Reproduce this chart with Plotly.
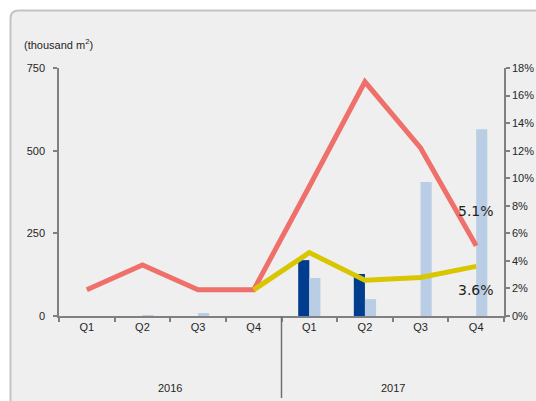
import plotly.graph_objects as go

quarters = ["Q1", "Q2", "Q3", "Q4", "Q1", "Q2", "Q3", "Q4"]
years = ["2016", "2017"]
dark_bars = [None, None, None, None, 169, 127, None, None]
light_bars = [None, 2, 9, None, 115, 51, 405, 565]
red_line = [1.9, 3.7, 1.9, 1.9, 9.4, 17.0, 12.2, 5.1]
yellow_line = [None, None, None, 1.9, 4.6, 2.6, 2.8, 3.6]

x = list(range(len(quarters)))

W, H = 536, 401
L, R, T, B = 59, 32, 68, 85
pw, ph = W - L - R, H - T - B

def px_x(p):
    return (p - L) / pw

def px_y(p):
    return (H - B - p) / ph

fig = go.Figure()
fig.add_trace(go.Bar(x=x, y=dark_bars, marker_color="#003d8f", marker_line_width=0, showlegend=False))
fig.add_trace(go.Bar(x=x, y=light_bars, marker_color="#b9cde5", marker_line_width=0, showlegend=False))
fig.add_trace(go.Scatter(x=x, y=[v / 100 for v in red_line], yaxis="y2", mode="lines",
                         line=dict(color="#ef6f6a", width=5), showlegend=False))
fig.add_trace(go.Scatter(x=x, y=[v / 100 if v is not None else None for v in yellow_line], yaxis="y2",
                         mode="lines", line=dict(color="#d8c600", width=5), showlegend=False))

axis_font = dict(family="Liberation Sans, Arial, sans-serif", size=11, color="#262626")
label_font = dict(family="DejaVu Sans, Verdana, sans-serif", size=14, color="#222222")

# panel background
r = 8
left, top, right, bottom = 10.5, 10.5, 560, 420
path = (f"M {px_x(left)} {px_y(bottom)} L {px_x(left)} {px_y(top + r)} "
        f"Q {px_x(left)} {px_y(top)} {px_x(left + r)} {px_y(top)} "
        f"L {px_x(right)} {px_y(top)} L {px_x(right)} {px_y(bottom)} Z")
shapes = [dict(type="path", path=path, xref="paper", yref="paper", fillcolor="#efefef",
               line=dict(color="#c4c4c4", width=2), layer="below")]
# year separator
shapes.append(dict(type="line", xref="x", yref="paper", x0=3.5, x1=3.5, y0=0, y1=px_y(398),
                   line=dict(color="#707070", width=1.5)))

annotations = [
    dict(text="(thousand m<sup>2</sup>)", xref="paper", yref="paper", x=px_x(22), y=px_y(44),
         xanchor="left", yanchor="middle", showarrow=False, font=axis_font),
    dict(text=years[0], xref="x", yref="paper", x=1.5, y=px_y(388), yanchor="middle",
         showarrow=False, font=axis_font),
    dict(text=years[1], xref="x", yref="paper", x=5.5, y=px_y(388), yanchor="middle",
         showarrow=False, font=axis_font),
    dict(text=f"{red_line[-1]:.1f}%", xref="x", yref="y2", x=x[-1], y=red_line[-1] / 100, yshift=35,
         xanchor="center", yanchor="middle", showarrow=False, font=label_font),
    dict(text=f"{yellow_line[-1]:.1f}%", xref="x", yref="y2", x=x[-1], y=yellow_line[-1] / 100, yshift=-24,
         xanchor="center", yanchor="middle", showarrow=False, font=label_font),
]

fig.update_layout(
    width=W, height=H, autosize=False,
    margin=dict(l=L, r=R, t=T, b=B, pad=0, autoexpand=False),
    paper_bgcolor="white", plot_bgcolor="rgba(0,0,0,0)",
    barmode="group", bargap=0.6, bargroupgap=0, showlegend=False,
    shapes=shapes, annotations=annotations,
    xaxis=dict(range=[-0.5, 7.5], tickvals=x, ticktext=quarters, ticks="", showgrid=False,
               zeroline=False, showline=True, linecolor="#808080", linewidth=1.5,
               tickfont=axis_font, automargin=False,
               minor=dict(tickvals=[i + 0.5 for i in range(-1, len(x))], ticks="outside",
                          ticklen=4, tickcolor="#808080", tickwidth=1.5)),
    yaxis=dict(range=[0, 750], tickvals=[0, 250, 500, 750], ticks="outside", ticklen=4,
               tickcolor="#808080", tickwidth=1.5, showgrid=False, zeroline=False, showline=True,
               linecolor="#808080", linewidth=1.5, tickfont=axis_font, ticklabelstandoff=6,
               automargin=False),
    yaxis2=dict(range=[0, 0.18], dtick=0.02, tickformat=".0%", overlaying="y", side="right",
                ticks="outside", ticklen=4, tickcolor="#808080", tickwidth=1.5, showgrid=False,
                zeroline=False, showline=True, linecolor="#808080", linewidth=1.5, tickfont=axis_font,
                automargin=False),
)

fig.write_html("out.html", config={"displayModeBar": False},
               post_script="document.body.style.margin='0';document.body.style.overflow='hidden';")
